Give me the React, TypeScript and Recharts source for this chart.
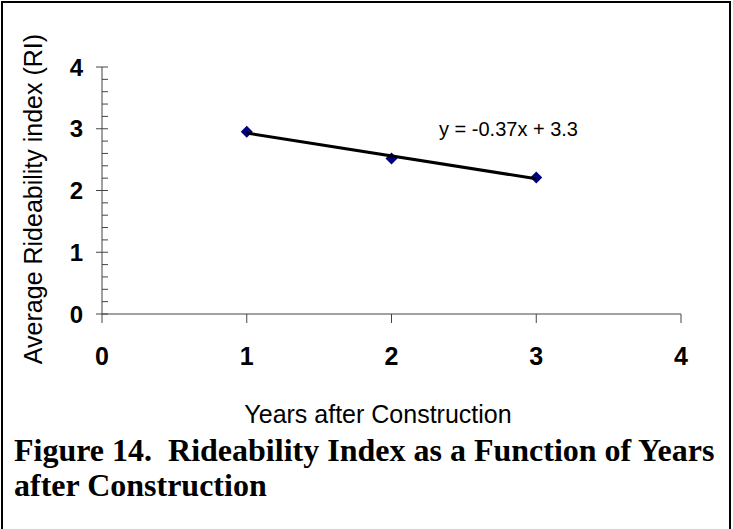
import React from "react";
import { ScatterChart, Scatter, XAxis, YAxis } from "recharts";

const years = [1, 2, 3];
const rideability = [2.95, 2.52, 2.21];
const trendYears = [1, 3];
const trendValues = [2.93, 2.19];
const xTicks = [0, 1, 2, 3, 4];
const yTicks = [0, 0.2, 0.4, 0.6, 0.8, 1, 1.2, 1.4, 1.6, 1.8, 2, 2.2, 2.4, 2.6, 2.8, 3, 3.2, 3.4, 3.6, 3.8, 4];
const equation = "y = -0.37x + 3.3";
const xTitle = "Years after Construction";
const yTitle = "Average Rideability index (RI)";
const caption = ["Figure 14.  Rideability Index as a Function of Years", "after Construction"];

const points = years.map((x, i) => ({ x, y: rideability[i] }));
const trend = trendYears.map((x, i) => ({ x, y: trendValues[i] }));

const AXIS = "#444";

function YTick(props: any) {
  const { x, y, payload } = props;
  const v = payload.value;
  const major = Math.abs(v - Math.round(v)) < 1e-6;
  return (
    <g>
      {major ? (
        <line x1={x - 6} x2={x + 6} y1={y} y2={y} stroke={AXIS} />
      ) : (
        <line x1={x} x2={x + 6} y1={y} y2={y} stroke={AXIS} />
      )}
      {major && (
        <text x={x - 19} y={y} dy="0.36em" textAnchor="end" fontFamily="Arial, Liberation Sans" fontWeight="bold" fontSize={24} fill="#000">
          {Math.round(v)}
        </text>
      )}
    </g>
  );
}

function XTick(props: any) {
  const { x, y, payload } = props;
  return (
    <text x={x} y={y + 18} textAnchor="middle" fontFamily="Arial, Liberation Sans" fontWeight="bold" fontSize={25} fill="#000">
      {payload.value}
    </text>
  );
}

function Diamond(props: any) {
  const { cx, cy } = props;
  const r = 6;
  return <polygon points={`${cx},${cy - r} ${cx + r},${cy} ${cx},${cy + r} ${cx - r},${cy}`} fill="#000080" />;
}

export default function App() {
  return (
    <div style={{ position: "absolute", left: 0, top: 0, width: 733, height: 529, background: "#fff", overflow: "hidden" }}>
      <div style={{ position: "absolute", left: 1, top: 1, width: 726, height: 560, borderLeft: "2px solid #000", borderTop: "2px solid #000", borderRight: "2px solid #000" }} />
      <div style={{ position: "absolute", left: 0, top: 0 }}>
        <ScatterChart width={733} height={420} margin={{ top: 67, right: 52, left: 42, bottom: 76 }}>
          <XAxis
            type="number"
            dataKey="x"
            domain={[0, 4]}
            ticks={xTicks}
            interval={0}
            height={30}
            tickSize={9}
            tickMargin={24}
            stroke={AXIS}
            tickLine={{ stroke: AXIS }}
            tick={<XTick />}
          />
          <YAxis
            type="number"
            dataKey="y"
            domain={[0, 4]}
            ticks={yTicks}
            interval={0}
            width={60}
            tickSize={0}
            tickMargin={0}
            tickLine={false}
            stroke={AXIS}
            tick={<YTick />}
          />
          <Scatter data={points} fill="#000080" shape={<Diamond />} legendType="none" isAnimationActive={false} />
          <Scatter
            data={trend}
            line={{ stroke: "#000", strokeWidth: 3 }}
            shape={() => null}
            legendType="none"
            isAnimationActive={false}
          />
        </ScatterChart>
      </div>
      <div style={{ position: "absolute", left: 439, top: 117, fontFamily: "Arial, 'Liberation Sans'", fontSize: 20, whiteSpace: "pre", lineHeight: "24px" }}>
        {equation}
      </div>
      <div style={{ position: "absolute", left: 378, top: 414, transform: "translate(-50%, -50%)", fontFamily: "Arial, 'Liberation Sans'", fontSize: 25, whiteSpace: "nowrap" }}>
        {xTitle}
      </div>
      <div style={{ position: "absolute", left: 33, top: 199, transform: "translate(-50%, -50%) rotate(-90deg)", fontFamily: "Arial, 'Liberation Sans'", fontSize: 25, whiteSpace: "nowrap" }}>
        {yTitle}
      </div>
      <div style={{ position: "absolute", left: 14, top: 433, fontFamily: "'Times New Roman', 'Liberation Serif'", fontWeight: "bold", fontSize: 32, lineHeight: "35px", whiteSpace: "pre" }}>
        {caption[0]}
        {"\n"}
        {caption[1]}
      </div>
    </div>
  );
}
